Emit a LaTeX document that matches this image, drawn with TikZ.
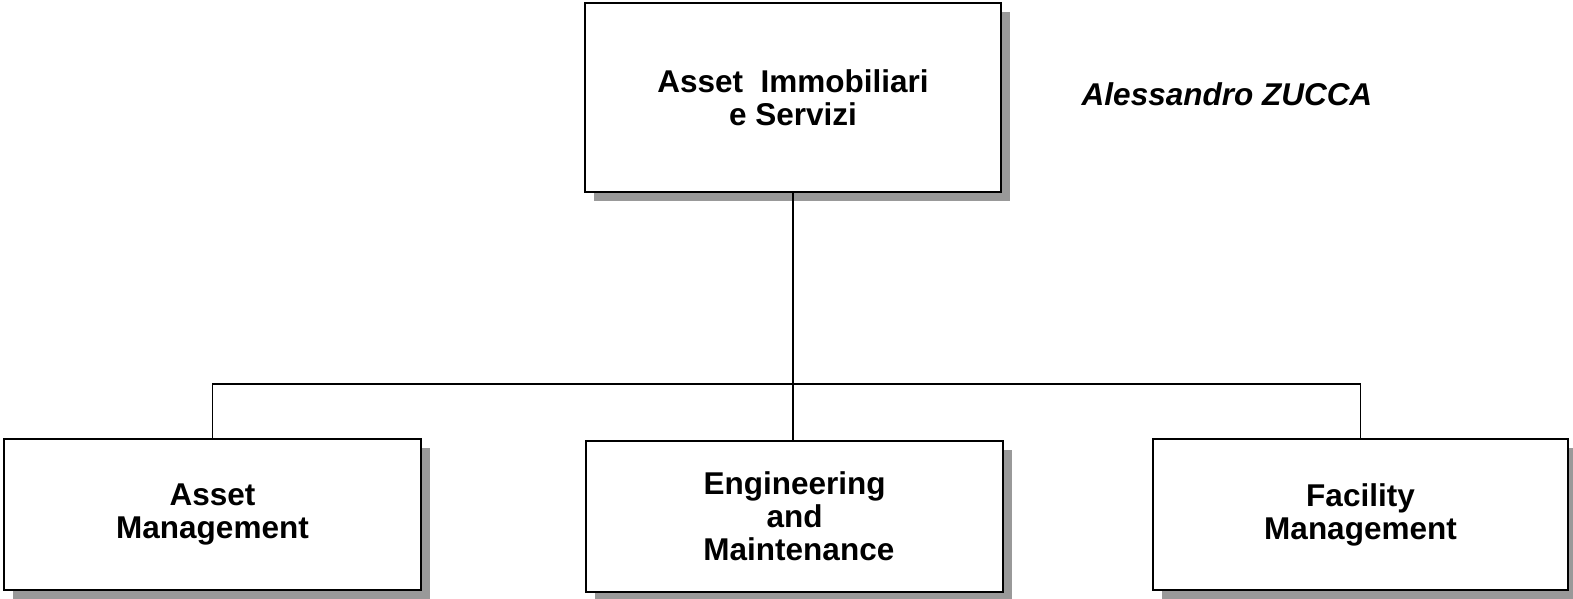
\documentclass[tikz,border=0pt]{standalone}
\usepackage{fontspec}
\setmainfont{Liberation Sans}
\usetikzlibrary{shadows}
\definecolor{shadowgray}{RGB}{153,153,153}
\tikzset{
  orgbox/.style={draw=black, line width=2pt, fill=white, rectangle, inner sep=0pt,
    minimum width=417pt, minimum height=151pt, align=center,
    font=\fontsize{31.5}{33}\selectfont\bfseries,
    drop shadow={shadow xshift=9pt, shadow yshift=-9pt, fill=shadowgray, opacity=1}},
  link/.style={draw=black, line width=1.5pt}
}
\begin{document}
\begin{tikzpicture}[x=1pt, y=-1pt]
\useasboundingbox (0,0) rectangle (1573,598);
\node[orgbox, minimum height=189pt, minimum width=416pt] (top) at (793,97.5) {Asset\ \ Immobiliari\\e Servizi};
\node[font=\fontsize{31.5}{33}\selectfont\bfseries\itshape, inner sep=0pt, anchor=base] (name) at (1227,105) {Alessandro ZUCCA};
\node[orgbox] (am) at (212.5,514.5) {Asset\\Management};
\node[orgbox] (em) at (794.5,516.5) {Engineering\\ and\\ \ Maintenance};
\node[orgbox, minimum width=415pt] (fm) at (1360.5,514.5) {Facility\\Management};
\coordinate (bus) at (793,384);
\draw[link] (top.south) -- (top.south |- em.north);
\draw[link] (am.north) |- (bus) -| (fm.north);
\end{tikzpicture}
\end{document}
